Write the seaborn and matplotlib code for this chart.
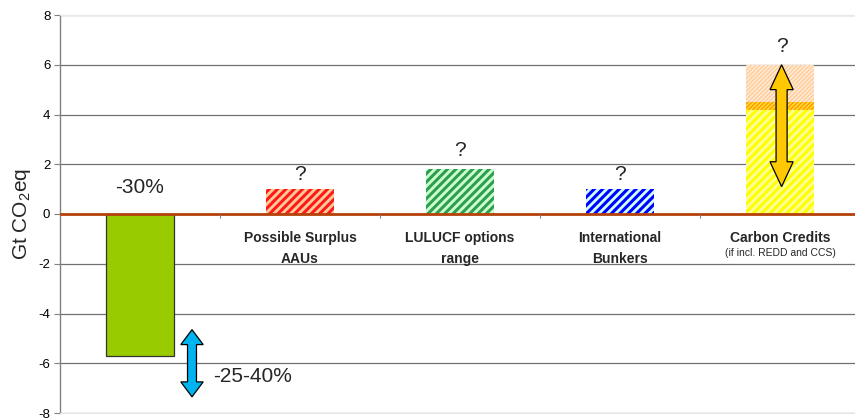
import matplotlib
matplotlib.use("Agg")
import matplotlib.pyplot as plt
import seaborn as sns
import pandas as pd
from matplotlib.patches import Polygon

# ---- data -------------------------------------------------------------
categories = ["-30%", "Possible Surplus\nAAUs", "LULUCF options\nrange",
              "International\nBunkers", "Carbon Credits"]
values = [-5.7, 1.0, 1.8, 1.0, 4.2]          # Gt CO2eq
credit_extra = [0.3, 1.5]                      # stacked above carbon credits base
question_y = [None, 1.6, 2.55, 1.6, 6.75]
reduction_label = "-30%"
range_label = "-25-40%"
range_arrow = (-4.65, -7.35)
credit_arrow = (1.1, 6.0)
y_ticks = [-8, -6, -4, -2, 0, 2, 4, 6, 8]

# ---- styles -----------------------------------------------------------
bar_face = ["#99CC00", "#FFCC99", "#CCFFCC", "#CCFFFF", "#FFFF99"]
bar_hatch_col = [None, "#FF1A1A", "#2E9E52", "#0000FF", "#FFFF00"]
extra_face = ["#FFDD33", "#FFEBD6"]
extra_hatch_col = ["#FF9900", "#FFCC99"]

sns.set_theme(style="white")
plt.rcParams["font.family"] = ["Liberation Sans", "DejaVu Sans"]
plt.rcParams["axes.unicode_minus"] = False
plt.rcParams["mathtext.fontset"] = "custom"
plt.rcParams["mathtext.rm"] = "Liberation Sans"
plt.rcParams["mathtext.it"] = "Liberation Sans:italic"
plt.rcParams["hatch.linewidth"] = 2.2

fig = plt.figure(figsize=(8.55, 4.18), dpi=100)
ax = fig.add_axes([60 / 855, 5 / 418, 800 / 855, 398 / 418])

df = pd.DataFrame({"category": categories, "value": values})
sns.barplot(data=df, x="category", y="value", ax=ax, width=0.42,
            errorbar=None, color=bar_face[0], zorder=2)


def set_hatch_lw(patch, lw):
    if hasattr(patch, "set_hatch_linewidth"):
        patch.set_hatch_linewidth(lw)


for i, p in enumerate(ax.patches):
    p.set_facecolor(bar_face[i])
    if bar_hatch_col[i] is None:
        p.set_edgecolor("#333333")
        p.set_linewidth(0.9)
    else:
        p.set_edgecolor(bar_hatch_col[i])
        p.set_hatch("////")
        p.set_linewidth(0)
        set_hatch_lw(p, 2.2)

# stacked segments on top of the carbon credits bar
bottom = values[4]
for k, h in enumerate(credit_extra):
    bars = ax.bar(4, h, bottom=bottom, width=0.42, color=extra_face[k],
                  edgecolor=extra_hatch_col[k], linewidth=0,
                  hatch="////////", zorder=2)
    for b in bars:
        set_hatch_lw(b, 1.0)
    bottom += h

ax.set_xlim(-0.5, 4.5)
ax.set_ylim(-8, 8)
ax.set_yticks(y_ticks)
ax.set_xticks([])
ax.set_xlabel("")
ax.set_ylabel("Gt CO$_\\mathrm{2}$eq", fontsize=15, labelpad=4)
ax.tick_params(axis="y", labelsize=9.5, length=4, width=0.8,
               color="#808080", left=True, pad=3, labelcolor="black")
ax.yaxis.grid(True, color="#707070", linewidth=0.9)
ax.set_axisbelow(True)
ax.spines["left"].set_color("#808080")
ax.spines["left"].set_linewidth(1.0)
ax.spines["right"].set_visible(False)
for s in ("top", "bottom"):
    ax.spines[s].set_color("#E8E8E8")
    ax.spines[s].set_linewidth(0.8)

# zero line with category dividers
ax.axhline(0, color="#B5410B", linewidth=2, zorder=3)
ax.vlines([0.5, 1.5, 2.5, 3.5], -0.16, 0, color="#808080",
          linewidth=0.8, zorder=3)


def double_arrow(x, y0, y1, shaft_w, head_w, head_l, color):
    lo, hi = min(y0, y1), max(y0, y1)
    pts = [
        (x, hi),
        (x + head_w / 2, hi - head_l),
        (x + shaft_w / 2, hi - head_l),
        (x + shaft_w / 2, lo + head_l),
        (x + head_w / 2, lo + head_l),
        (x, lo),
        (x - head_w / 2, lo + head_l),
        (x - shaft_w / 2, lo + head_l),
        (x - shaft_w / 2, hi - head_l),
        (x - head_w / 2, hi - head_l),
    ]
    ax.add_patch(Polygon(pts, closed=True, facecolor=color,
                         edgecolor="black", linewidth=0.9, zorder=5))


double_arrow(0.325, *range_arrow, shaft_w=0.056, head_w=0.14,
             head_l=0.6, color="#00B4F0")
double_arrow(4.01, *credit_arrow, shaft_w=0.069, head_w=0.145,
             head_l=1.0, color="#FFC800")

# annotations
ax.text(0, 1.05, reduction_label, ha="center", va="center", fontsize=15)
ax.text(0.456, -6.55, range_label, ha="left", va="center", fontsize=15)
for i, qy in enumerate(question_y):
    if qy is not None:
        ax.text(i + (0.01 if i == 4 else 0), qy, "?", ha="center",
                va="center", fontsize=15)

for i, name in enumerate(categories[1:], start=1):
    for k, line in enumerate(name.split("\n")):
        ax.text(i, -0.96 - 0.86 * k, line, ha="center", va="center",
                fontsize=10, fontweight="bold")
ax.text(4, -1.57, "(if incl. REDD and CCS)", ha="center", va="center",
        fontsize=7.5)

fig.savefig("out.png", dpi=100)
